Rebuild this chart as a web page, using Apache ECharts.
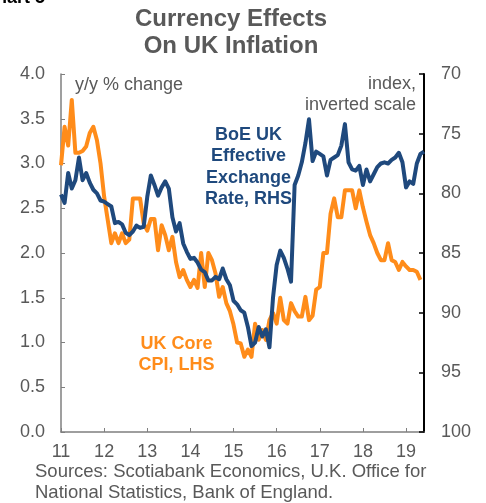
<!DOCTYPE html>
<html>
<head>
<meta charset="utf-8">
<script src="https://cdn.jsdelivr.net/npm/echarts@6/dist/echarts.min.js"></script>
<style>
html,body{margin:0;padding:0;background:#fff;}
#chart{width:486px;height:503px;}
</style>
</head>
<body>
<div id="chart"></div>
<script>
// Monthly, Jan 2011 .. Jun 2019
const startYear = 2011;
const nMonths = 102;
const xTickLabels = ['11','12','13','14','15','16','17','18','19'];
const leftTicks = [0, 0.5, 1, 1.5, 2, 2.5, 3, 3.5, 4];
const rightTicks = [70, 75, 80, 85, 90, 95, 100];

// UK Core CPI, y/y % change (LHS)
const coreCPI = [
  2.98, 3.41, 3.20, 3.71, 3.12, 3.12, 3.14, 3.19, 3.34, 3.41, 3.26, 3.00,
  2.63, 2.37, 2.11, 2.22, 2.11, 2.22, 2.11, 2.15, 2.61, 2.61, 2.61, 2.33,
  2.25, 2.38, 2.38, 2.03, 2.31, 2.20, 2.03, 2.18, 1.90, 1.73, 1.81, 1.70,
  1.62, 1.70, 1.61, 2.00, 1.62, 2.00, 1.92, 1.77, 1.51, 1.62, 1.44, 1.35,
  1.20, 1.00, 0.99, 0.84, 0.92, 0.84, 1.21, 1.03, 1.14, 1.03, 1.25, 1.33,
  1.21, 1.50, 1.25, 1.21, 1.44, 1.35, 1.29, 1.29, 1.51, 1.25, 1.30, 1.59,
  1.62, 2.00, 2.00, 2.44, 2.61, 2.40, 2.40, 2.70, 2.70, 2.70, 2.50, 2.70,
  2.51, 2.35, 2.20, 2.11, 2.00, 1.92, 1.92, 2.11, 1.92, 1.90, 1.81, 1.90,
  1.85, 1.81, 1.81, 1.79, 1.70, null
];

// BoE UK Effective Exchange Rate index (RHS, inverted)
const boeEER = [
  80.1, 80.8, 78.3, 79.6, 78.9, 77.0, 78.9, 78.3, 79.1, 79.7, 80.0, 80.6,
  80.7, 80.9, 81.1, 82.5, 82.4, 82.6, 83.3, 83.5, 83.2, 82.7, 82.9, 82.8,
  80.3, 78.5, 79.3, 80.2, 79.5, 79.0, 79.6, 82.0, 83.2, 82.5, 84.2, 84.9,
  85.5, 85.4, 85.8, 86.4, 86.6, 87.3, 87.3, 87.0, 87.2, 86.3, 87.2, 87.7,
  89.0, 89.3, 89.8, 90.0, 91.2, 92.8, 92.5, 91.2, 92.0, 91.4, 92.9, 88.7,
  86.0, 84.8, 85.4, 86.3, 87.4, 79.3, 78.5, 77.4, 75.8, 73.8, 77.3, 76.5,
  76.7, 76.9, 78.5, 77.2, 77.0, 76.8, 76.0, 74.2, 77.4, 78.0, 78.1, 77.7,
  79.3, 78.0, 79.0, 78.4, 77.8, 77.5, 77.4, 77.5, 77.2, 77.0, 76.6, 77.4,
  79.5, 79.0, 79.2, 77.5, 76.7, 76.5
];

const months = [];
for (let i = 0; i < nMonths; i++) {
  const y = startYear + Math.floor(i / 12);
  const m = (i % 12) + 1;
  months.push(y + '-' + (m < 10 ? '0' + m : m));
}

const GREY = '#595959';
const ORANGE = '#FF8C1A';
const BLUE = '#1F497D';
const FONT = 'Liberation Sans, Arial, sans-serif';

const chart = echarts.init(document.getElementById('chart'), null, {renderer: 'canvas'});
chart.setOption({
  animation: false,
  backgroundColor: '#ffffff',
  textStyle: {fontFamily: FONT},
  grid: {left: 61, right: 62, top: 74, bottom: 71, containLabel: false},
  xAxis: {
    type: 'category',
    data: months,
    boundaryGap: false,
    axisLine: {show: true, lineStyle: {color: '#7f7f7f', width: 1.5}},
    axisTick: {show: true, inside: true, length: 4, interval: function (i) { return i % 12 === 0; }, lineStyle: {color: '#7f7f7f'}},
    axisLabel: {
      interval: function (i) { return i % 12 === 0; },
      formatter: function (v, i) { return xTickLabels[Math.floor(i / 12)] || ''; },
      color: GREY, fontSize: 18, fontFamily: FONT, margin: 11
    },
    splitLine: {show: false}
  },
  yAxis: [
    {
      type: 'value', min: leftTicks[0], max: leftTicks[leftTicks.length - 1], interval: 0.5,
      position: 'left',
      axisLine: {show: true, lineStyle: {color: '#7f7f7f', width: 1.5}},
      axisTick: {show: true, inside: true, length: 4, lineStyle: {color: '#7f7f7f'}},
      axisLabel: {formatter: function (v) { return v.toFixed(1); }, color: GREY, fontSize: 18, fontFamily: FONT, margin: 16},
      splitLine: {show: false}
    },
    {
      type: 'value', min: rightTicks[0], max: rightTicks[rightTicks.length - 1], interval: 5,
      inverse: true, position: 'right',
      axisLine: {show: true, lineStyle: {color: '#000000', width: 2}},
      axisTick: {show: true, inside: true, length: 5, lineStyle: {color: '#000000', width: 1.5}},
      axisLabel: {color: GREY, fontSize: 18, fontFamily: FONT, margin: 17},
      splitLine: {show: false}
    }
  ],
  series: [
    {
      name: 'UK Core CPI, LHS', type: 'line', yAxisIndex: 0, data: coreCPI,
      symbol: 'none', lineStyle: {color: ORANGE, width: 4, join: 'round'}, z: 2
    },
    {
      name: 'BoE UK Effective Exchange Rate, RHS', type: 'line', yAxisIndex: 1, data: boeEER,
      symbol: 'none', lineStyle: {color: BLUE, width: 4, join: 'round'}, z: 3
    }
  ],
  graphic: [
    {type: 'text', x: -17, y: 7, style: {text: 'Chart 5', font: 'bold 18px ' + FONT, fill: '#000', verticalAlign: 'bottom'}},
    {type: 'text', x: 231, y: 6, style: {text: 'Currency Effects\nOn UK Inflation', font: 'bold 24px ' + FONT, fill: GREY, align: 'center', verticalAlign: 'top', lineHeight: 27}},
    {type: 'text', x: 75, y: 85, style: {text: 'y/y % change', font: '18px ' + FONT, fill: GREY, verticalAlign: 'middle'}},
    {type: 'text', x: 416, y: 74, style: {text: 'index,\ninverted scale', font: '18px ' + FONT, fill: GREY, align: 'right', verticalAlign: 'top', lineHeight: 20.5}},
    {type: 'text', x: 248.5, y: 124, style: {text: 'BoE UK\nEffective\nExchange\nRate, RHS', font: 'bold 18px ' + FONT, fill: BLUE, align: 'center', verticalAlign: 'top', lineHeight: 21.5}},
    {type: 'text', x: 176.5, y: 333, style: {text: 'UK Core\nCPI, LHS', font: 'bold 18px ' + FONT, fill: ORANGE, align: 'center', verticalAlign: 'top', lineHeight: 21.5}},
    {type: 'text', x: 35, y: 461, style: {text: 'Sources: Scotiabank Economics, U.K. Office for\nNational Statistics, Bank of England.', font: '18.5px ' + FONT, fill: GREY, verticalAlign: 'top', lineHeight: 21.5}}
  ]
});
</script>
</body>
</html>
